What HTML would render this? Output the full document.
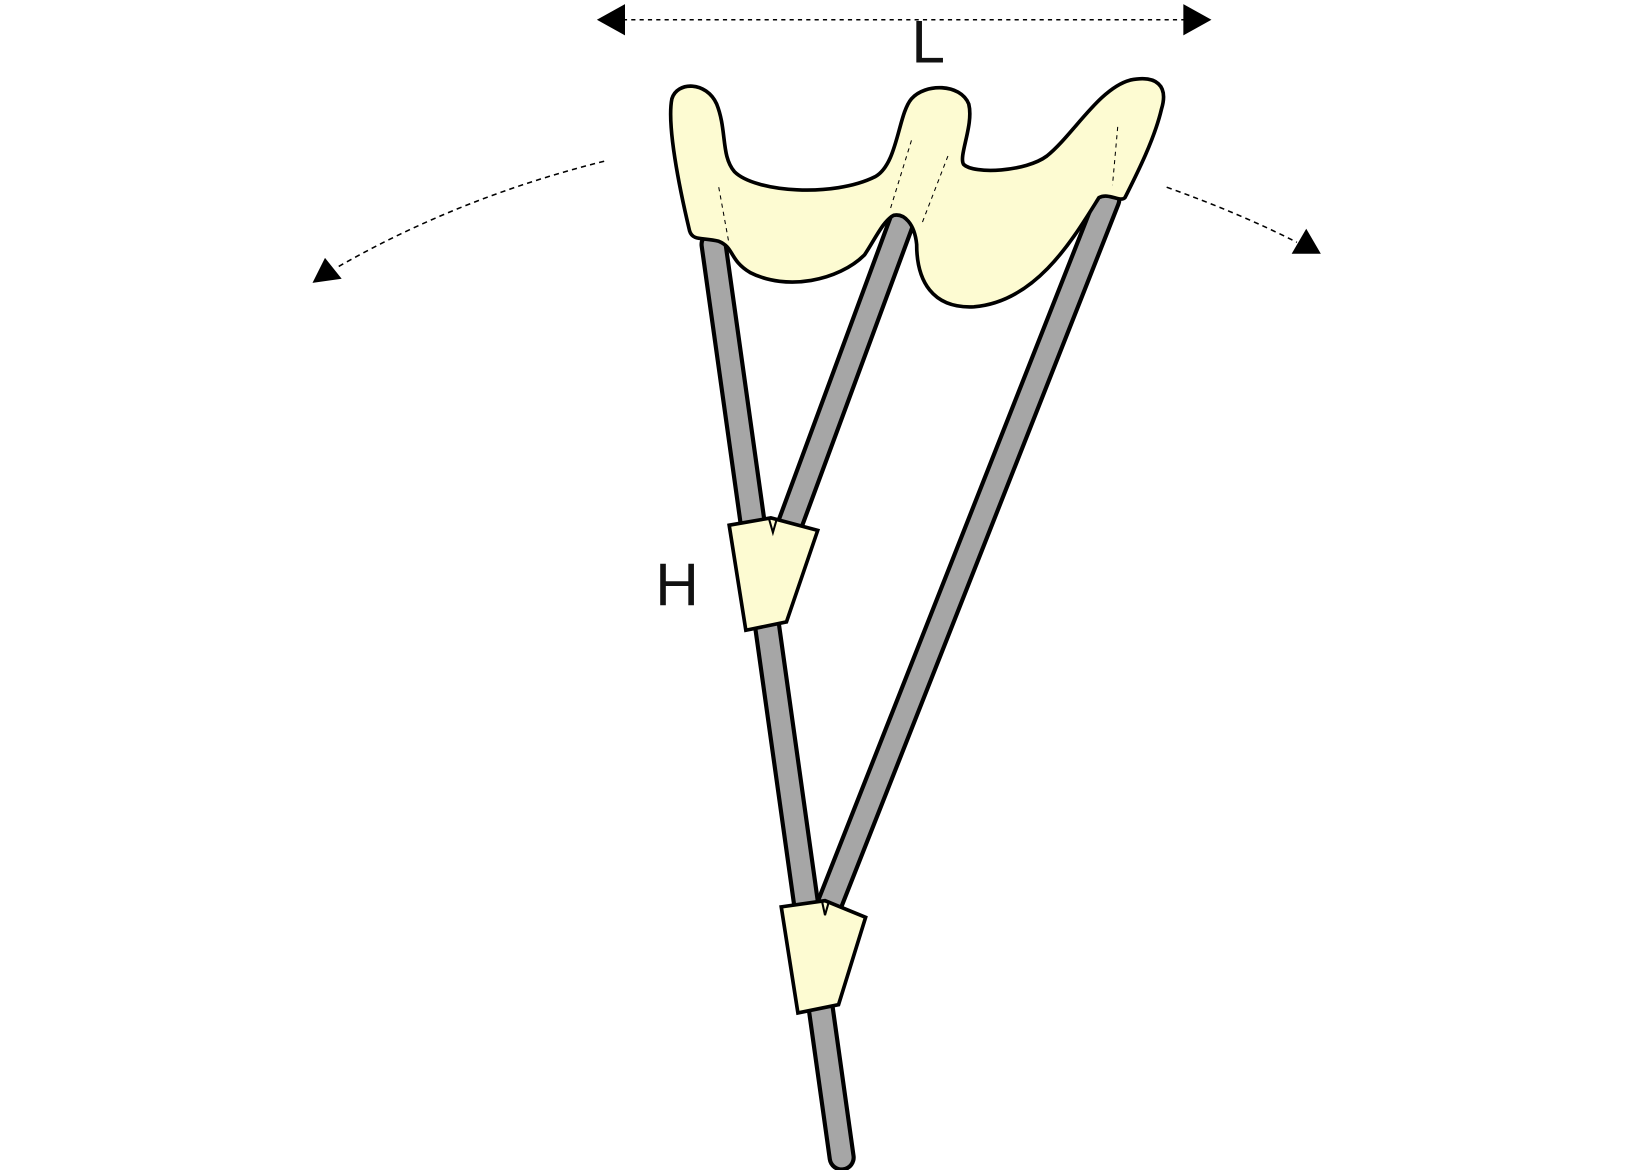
<!DOCTYPE html>
<html><head><style>html,body{margin:0;padding:0;background:#fff;}svg{display:block}</style></head>
<body>
<svg width="1625" height="1170" viewBox="0 0 1560 1125" preserveAspectRatio="none" xmlns="http://www.w3.org/2000/svg">
<rect width="1560" height="1125" fill="#fff"/>
<!-- L dimension -->
<line x1="598" y1="19" x2="1140" y2="19" stroke="#000" stroke-width="1.5" stroke-dasharray="4,4"/>
<polygon points="573,19 600,4 600,34" fill="#000"/>
<polygon points="1163,19 1136,4 1136,34" fill="#000"/>
<rect x="862" y="20" width="40" height="42" fill="#fff"/>
<text x="891" y="60" font-family="Liberation Sans, sans-serif" font-size="58" text-anchor="middle" fill="#111">L</text>
<!-- swing arcs -->
<path d="M580,155 Q440,190 322,258" fill="none" stroke="#000" stroke-width="1.5" stroke-dasharray="5,4"/>
<polygon points="300,272 312,248 328,268" fill="#000"/>
<path d="M1120,180 Q1190,205 1245,233" fill="none" stroke="#000" stroke-width="1.5" stroke-dasharray="5,4"/>
<polygon points="1268,244 1240,244 1254,220" fill="#000"/>
<!-- rods -->
<g stroke-linecap="round">
<line x1="685" y1="235" x2="808" y2="1113" stroke="#000" stroke-width="27"/>
<line x1="685" y1="235" x2="808" y2="1113" stroke="#a6a6a6" stroke-width="19"/>
<line x1="866" y1="212" x2="758" y2="505" stroke="#000" stroke-width="27"/>
<line x1="866" y1="212" x2="758" y2="505" stroke="#a6a6a6" stroke-width="19"/>
<line x1="1063" y1="192" x2="793" y2="878" stroke="#000" stroke-width="27"/>
<line x1="1063" y1="192" x2="793" y2="878" stroke="#a6a6a6" stroke-width="19"/>
</g>
<!-- seat -->
<path d="M662,222 C652,180 640,120 645,95 C650,78 678,78 688,100 C698,125 692,150 705,165 C725,185 800,190 840,170 C862,158 862,110 875,95 C888,80 922,80 930,100 C935,120 920,150 925,158 C935,168 985,165 1005,150 C1030,130 1055,85 1085,77 C1110,72 1122,82 1115,105 C1108,135 1090,170 1080,190 C1075,195 1065,185 1055,190 C1030,230 995,290 935,295 C895,297 880,270 880,235 C878,215 868,205 858,207 C848,212 840,230 830,245 C805,270 755,280 720,262 C700,250 705,238 690,232 C675,228 665,232 662,222 Z" fill="#fdfbd2" stroke="#000" stroke-width="3.5"/>
<g stroke="#000" stroke-width="1" stroke-dasharray="4,4" fill="none">
<line x1="690" y1="180" x2="700" y2="235"/>
<line x1="875" y1="135" x2="855" y2="200"/>
<line x1="910" y1="150" x2="885" y2="215"/>
<line x1="1073" y1="122" x2="1068" y2="178"/>
</g>
<!-- sleeves -->
<path d="M700,505 L740,498 L785,510 L755,598 L716,606 Z" fill="#fdfbd2" stroke="#000" stroke-width="3.5"/>
<path d="M738,498 L742,512 L746,498" fill="none" stroke="#000" stroke-width="2"/>
<path d="M750,872 L792,866 L831,882 L805,966 L766,974 Z" fill="#fdfbd2" stroke="#000" stroke-width="3.5"/>
<path d="M789,866 L792,880 L796,866" fill="none" stroke="#000" stroke-width="2"/>
<text x="650" y="582" font-family="Liberation Sans, sans-serif" font-size="58" text-anchor="middle" fill="#111">H</text>
</svg>
</body></html>
